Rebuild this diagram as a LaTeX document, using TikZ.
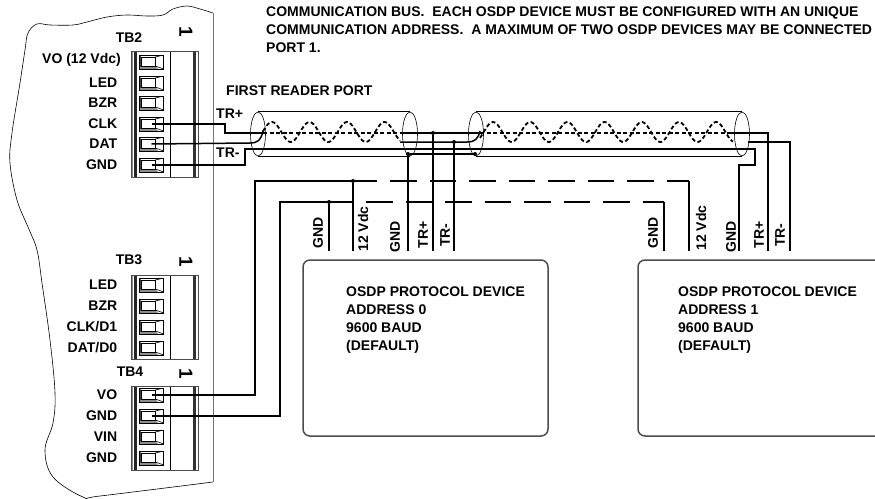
\documentclass[tikz,border=0pt]{standalone}
\usepackage{fontspec}
\setmainfont{Liberation Sans}
\usetikzlibrary{shapes.geometric, positioning}
\newcommand{\pp}[2]{([xshift=#1pt,yshift=-#2pt]path picture bounding box.north west)}
\tikzset{
	board/.style={
		line width=0.6pt,
		draw=black
	},
	tblock/.style={
		rectangle,
		minimum width=67pt,
		draw=black!70,
		line width=0.7pt,
		inner sep=0pt,
		path picture={
			\fill[black!45] \pp{0}{0} rectangle \pp{2}{130};
			\fill[black!85] \pp{3}{0} rectangle \pp{5.5}{130};
			\fill[black] \pp{38.5}{0} rectangle \pp{39.7}{130};
			\fill[black!80] \pp{62}{0} rectangle \pp{65}{130};
		}
	},
	slot/.style={
		rectangle,
		minimum width=24.5pt,
		minimum height=14pt,
		inner sep=0pt,
		draw=black,
		line width=0.7pt,
		path picture={
			\fill[black!75] \pp{0}{0} -- \pp{2}{2} -- \pp{2}{11} -- \pp{0}{14} -- cycle;
			\fill[black!45] \pp{0}{14} -- \pp{2}{11} -- \pp{16}{11} -- \pp{19}{14} -- cycle;
			\draw[line width=0.6pt] \pp{2}{2} rectangle \pp{16}{11};
			\draw[line width=0.6pt] \pp{16}{2} -- \pp{24.5}{0} \pp{16}{11} -- \pp{24.5}{14};
		}
	},
	pinlabel/.style={
		anchor=east,
		inner sep=0pt,
		font=\fontsize{14}{16}\selectfont\bfseries
	},
	tag/.style={
		inner sep=0pt,
		font=\fontsize{14}{16}\selectfont\bfseries
	},
	pinone/.style={
		rotate=-90,
		inner sep=0pt,
		font=\fontsize{19}{20}\selectfont\bfseries
	},
	note/.style={
		anchor=west,
		align=left,
		inner sep=0pt,
		font=\fontsize{14}{18}\selectfont\bfseries
	},
	device/.style={
		rectangle,
		rounded corners=7pt,
		draw=black!70,
		line width=1.5pt
	},
	shield/.style={
		ellipse,
		minimum width=15pt,
		minimum height=44pt,
		inner sep=0pt,
		draw=black,
		line width=0.6pt
	},
	joint/.style={
		circle,
		fill=black,
		minimum size=4pt,
		inner sep=0pt
	},
	jacket/.style={line width=0.6pt},
	wire/.style={line width=1.5pt},
	core/.style={line width=1.8pt,dash pattern=on 4pt off 2.5pt},
	power/.style={line width=1.5pt,dash pattern=on 26.5pt off 13pt}
}

\begin{document}
\begin{tikzpicture}[x=1pt, y=-1pt]
	\clip (0,0) rectangle (875,498);

	\draw [board] plot [smooth, tension=0.6] coordinates {(213,13) (200,9) (187,6) (173,9) (163,15) (147,16) (127,15) (107,17) (87,22) (73,25) (50,25) (37,24) (28,33) (25,50) (20,83) (12,133) (10,163) (17,200) (28,227) (37,250) (42,283) (50,340) (55,393) (53,423) (45,450) (53,477) (83,497) (100,496) (213,482)};
	\draw [black!55, line width=0.9pt] (213,13) -- (213,482);

	\node (tb2block) [tblock, minimum height=126pt] at (164.5,114) {};
	\node (tb3block) [tblock, minimum height=84pt] at (164.5,317) {};
	\node (tb4block) [tblock, minimum height=84pt] at (164.5,428) {};

	\foreach \n/\y in {vo/62, led/83, bzr/103, clk/124, dat/144, gnd/165}
		\node (tb2\n) [slot] at (151.5,\y) {};
	\foreach \n/\y in {led/285, bzr/306, clk/327, dat/348}
		\node (tb3\n) [slot] at (151.5,\y) {};
	\foreach \n/\y in {vo/395, gnd/416, vin/437, gndb/458}
		\node (tb4\n) [slot] at (151.5,\y) {};

	\node (lblvo) [pinlabel] at (121,60) {VO (12 Vdc)};
	\foreach \n/\t in {led/LED, bzr/BZR, clk/CLK, dat/DAT, gnd/GND}
		\node [pinlabel, left=21.5pt of tb2\n] {\t};
	\foreach \n/\t in {led/LED, bzr/BZR, clk/{CLK/D1}, dat/{DAT/D0}}
		\node [pinlabel, left=21.5pt of tb3\n] {\t};
	\foreach \n/\t in {vo/VO, gnd/GND, vin/VIN, gndb/GND}
		\node [pinlabel, left=21.5pt of tb4\n] {\t};

	\node (tb2name) [tag] at (129,38) {TB2};
	\node (tb3name) [tag] at (129,260) {TB3};
	\node (tb4name) [tag] at (130,372) {TB4};
	\node (tb2one) [pinone] at (186,32) {1};
	\node (tb3one) [pinone] at (186,262) {1};
	\node (tb4one) [pinone] at (186,374) {1};

	\node (busnote) [note] at (266,30) {COMMUNICATION BUS.\ \ EACH OSDP DEVICE MUST BE CONFIGURED WITH AN UNIQUE\\COMMUNICATION ADDRESS.\ \ A MAXIMUM OF TWO OSDP DEVICES MAY BE CONNECTED\\PORT 1.};
	\node (portname) [note] at (226,91) {FIRST READER PORT};
	\node (trplus) [tag, anchor=west] at (216,114) {TR+};
	\node (trminus) [tag, anchor=west] at (216,153) {TR-};

	\node (deva) [device, minimum width=245pt, minimum height=176pt] at (425.5,348) {};
	\node (devb) [device, minimum width=252pt, minimum height=176pt] at (764,348) {};
	\node (devatext) [note] at (346,320) {OSDP PROTOCOL DEVICE\\ADDRESS 0\\9600 BAUD\\(DEFAULT)};
	\node (devbtext) [note] at (678,320) {OSDP PROTOCOL DEVICE\\ADDRESS 1\\9600 BAUD\\(DEFAULT)};

	\node (cableal) [shield] at (258,134) {};
	\node (cablear) [shield] at (410,134) {};
	\node (cablebl) [shield] at (476,134) {};
	\node (cablebr) [shield] at (742,134) {};
	\draw [jacket] (cableal.north) -- (cablear.north);
	\draw [jacket] (cableal.south) -- (cablear.south);
	\draw [jacket] (cablebl.north) -- (cablebr.north);
	\draw [jacket] (cablebl.south) -- (cablebr.south);

	\draw [core] plot [domain=263:400, samples=90] (\x, {132-10*cos(9.6*(\x-272))});
	\draw [core] plot [domain=480:733, samples=160] (\x, {132-10*cos(9.68*(\x-493))});

	\coordinate (corea) at (263,133);
	\coordinate (coreb) at (400,133);
	\coordinate (corec) at (480,133);
	\coordinate (cored) at (727,133);
	\coordinate (corebend) at (768,133);
	\coordinate (clkbend) at (225,133);
	\coordinate (datbend) at (250,143);
	\coordinate (gndbend) at (245,149);
	\coordinate (drainend) at (755,149);
	\coordinate (drainback) at (755,165);
	\coordinate (drainout) at (739,165);
	\coordinate (midstart) at (400,142);
	\coordinate (midbend) at (467,142);
	\coordinate (midout) at (748,142);
	\coordinate (midcorner) at (790,142);

	\node (jshielda) [joint] at (408,154) {};
	\node (jshieldb) [joint] at (475,154) {};
	\node (jplus) [joint] at (433,133) {};
	\node (jminus) [joint] at (454,142) {};
	\node (jvdc) [joint] at (353,181) {};
	\node (jgnd) [joint] at (329,202) {};

	\draw [wire] (tb2clk.center) -| (clkbend) -- (corea);
	\draw [core] (corea) -- (coreb);
	\draw [wire] (coreb) -- (corec);
	\draw [core] (corec) -- (cored);
	\draw [wire] (cored) -- (corebend) -- (768,251);
	\draw [wire] (tb2dat.center) -- (datbend) .. controls (258,143) and (261,140) .. (263,131);
	\draw [wire] (midstart) -- (midbend) .. controls (475,142) and (478,139) .. (480,131);
	\draw [wire] (midout) -- (midcorner) -- (790,251);
	\draw [wire] (tb2gnd.center) -| (gndbend) -- (drainend) -- (drainback) -- (drainout) -- (739,251);
	\draw [wire] (jshielda) -- (jshieldb);

	\coordinate (vobend) at (255,395);
	\coordinate (voline) at (255,181);
	\coordinate (vosolid) at (377,181);
	\coordinate (vodash) at (390,181);
	\coordinate (vocorner) at (689,181);
	\coordinate (gndturn) at (280,416);
	\coordinate (gndline) at (280,202);
	\coordinate (gndsolid) at (353,202);
	\coordinate (gnddash) at (366,202);
	\coordinate (gndcorner) at (664,202);
	\draw [wire] (tb4vo.center) -- (vobend) -- (voline) -- (vosolid);
	\draw [power] (vodash) -- (vocorner);
	\draw [wire] (vocorner) -- (689,251);
	\draw [wire] (tb4gnd.center) -- (gndturn) -- (gndline) -- (gndsolid);
	\draw [power] (gnddash) -- (gndcorner);
	\draw [wire] (gndcorner) -- (664,251);
	\draw [wire] (jgnd) -- (329,251);
	\draw [wire] (jvdc) -- (353,251);
	\draw [wire] (jshielda) -- (408,251);
	\draw [wire] (jplus) -- (433,251);
	\draw [wire] (jminus) -- (454,251);

	\foreach \x/\y/\t in {318/233/GND, 363/229/12 Vdc, 395/237/GND, 423/235/TR+, 445/235/TR-, 653/233/GND, 701/228/12 Vdc, 731/237/GND, 759/235/TR+, 780/235/TR-}
		\node [tag, rotate=90] at (\x,\y) {\t};
\end{tikzpicture}
\end{document}
